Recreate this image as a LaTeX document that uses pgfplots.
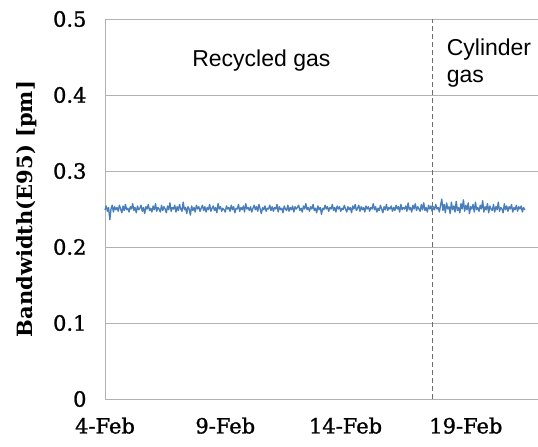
\documentclass[border=0pt]{standalone}
\usepackage{fontspec}
\setmainfont{DejaVu Serif}[FakeBold=1.2]
\newfontfamily\sansfont{Liberation Sans}
\newfontfamily\labfont{DejaVu Serif Bold}
\usepackage{pgfplots}
\pgfplotsset{compat=1.18}
\definecolor{lineblue}{RGB}{74,126,187}
\definecolor{gridgray}{RGB}{178,178,178}
\definecolor{dashgray}{RGB}{110,110,110}
\begin{document}
\begin{tikzpicture}
\begin{axis}[
  at={(0,0)}, anchor=south west,
  scale only axis,
  width=433bp, height=380bp,
  xmin=4, xmax=22,
  ymin=0, ymax=0.5,
  xtick={4,9,14,19},
  xticklabels={4-Feb,9-Feb,14-Feb,19-Feb},
  ytick={0,0.1,0.2,0.3,0.4,0.5},
  yticklabels={0,0.1,0.2,0.3,0.4,0.5},
  major tick length=0pt,
  axis x line*=bottom,
  axis y line*=left,
  axis line style={draw=gridgray, line width=0.8bp, -},
  ymajorgrids,
  grid style={draw=gridgray, line width=0.8bp},
  tick label style={font=\fontsize{21bp}{24bp}\selectfont},
  xticklabel style={yshift=-15bp},
  yticklabel style={xshift=-15bp},
  /pgf/number format/assume math mode=true,
  ylabel={Bandwidth(E95) [pm]},
  ylabel style={at={(axis description cs:-0.181,0.5)}, anchor=center, font=\labfont\fontsize{21bp}{24bp}\selectfont},
  clip=false,
]
\addplot[lineblue, line width=1.35bp, line join=round] coordinates {
(4.00,0.249)(4.05,0.254)(4.10,0.247)(4.15,0.252)(4.20,0.236)(4.25,0.250)(4.30,0.255)(4.35,0.246)(4.40,0.253)(4.45,0.249)
(4.50,0.252)(4.55,0.247)(4.60,0.255)(4.65,0.250)(4.70,0.245)(4.75,0.254)(4.80,0.248)(4.85,0.256)(4.90,0.249)(4.95,0.251)
(5.00,0.246)(5.05,0.253)(5.10,0.250)(5.15,0.257)(5.20,0.248)(5.25,0.252)(5.30,0.245)(5.35,0.254)(5.40,0.249)(5.45,0.251)
(5.50,0.255)(5.55,0.247)(5.60,0.252)(5.65,0.244)(5.70,0.253)(5.75,0.250)(5.80,0.256)(5.85,0.248)(5.90,0.251)(5.95,0.246)
(6.00,0.254)(6.05,0.249)(6.10,0.257)(6.15,0.247)(6.20,0.252)(6.25,0.250)(6.30,0.246)(6.35,0.255)(6.40,0.248)(6.45,0.253)
(6.50,0.250)(6.55,0.245)(6.60,0.254)(6.65,0.249)(6.70,0.258)(6.75,0.247)(6.80,0.252)(6.85,0.250)(6.90,0.255)(6.95,0.246)
(7.00,0.253)(7.05,0.248)(7.10,0.256)(7.15,0.250)(7.20,0.247)(7.25,0.259)(7.30,0.249)(7.35,0.252)(7.40,0.244)(7.45,0.253)
(7.50,0.250)(7.55,0.242)(7.60,0.254)(7.65,0.248)(7.70,0.252)(7.75,0.246)(7.80,0.255)(7.85,0.250)(7.90,0.253)(7.95,0.247)
(8.00,0.251)(8.05,0.255)(8.10,0.248)(8.15,0.253)(8.20,0.246)(8.25,0.252)(8.30,0.249)(8.35,0.256)(8.40,0.247)(8.45,0.251)
(8.50,0.254)(8.55,0.248)(8.60,0.252)(8.65,0.245)(8.70,0.257)(8.75,0.250)(8.80,0.253)(8.85,0.247)(8.90,0.251)(8.95,0.249)
(9.00,0.246)(9.05,0.254)(9.10,0.250)(9.15,0.252)(9.20,0.247)(9.25,0.255)(9.30,0.249)(9.35,0.253)(9.40,0.245)(9.45,0.251)
(9.50,0.250)(9.55,0.256)(9.60,0.247)(9.65,0.252)(9.70,0.249)(9.75,0.254)(9.80,0.246)(9.85,0.257)(9.90,0.250)(9.95,0.252)
(10.00,0.248)(10.05,0.253)(10.10,0.246)(10.15,0.251)(10.20,0.255)(10.25,0.249)(10.30,0.253)(10.35,0.247)(10.40,0.256)(10.45,0.250)
(10.50,0.244)(10.55,0.252)(10.60,0.249)(10.65,0.254)(10.70,0.247)(10.75,0.251)(10.80,0.250)(10.85,0.255)(10.90,0.248)(10.95,0.253)
(11.00,0.247)(11.05,0.252)(11.10,0.250)(11.15,0.256)(11.20,0.246)(11.25,0.253)(11.30,0.249)(11.35,0.251)(11.40,0.245)(11.45,0.254)
(11.50,0.250)(11.55,0.248)(11.60,0.255)(11.65,0.247)(11.70,0.252)(11.75,0.249)(11.80,0.254)(11.85,0.246)(11.90,0.253)(11.95,0.250)
(12.00,0.252)(12.05,0.255)(12.10,0.248)(12.15,0.251)(12.20,0.246)(12.25,0.254)(12.30,0.250)(12.35,0.257)(12.40,0.249)(12.45,0.252)
(12.50,0.247)(12.55,0.253)(12.60,0.250)(12.65,0.256)(12.70,0.248)(12.75,0.251)(12.80,0.245)(12.85,0.254)(12.90,0.249)(12.95,0.252)
(13.00,0.243)(13.05,0.251)(13.10,0.249)(13.15,0.255)(13.20,0.250)(13.25,0.253)(13.30,0.247)(13.35,0.252)(13.40,0.250)(13.45,0.256)
(13.50,0.248)(13.55,0.252)(13.60,0.246)(13.65,0.254)(13.70,0.250)(13.75,0.253)(13.80,0.247)(13.85,0.251)(13.90,0.249)(13.95,0.255)
(14.00,0.250)(14.05,0.246)(14.10,0.253)(14.15,0.249)(14.20,0.252)(14.25,0.245)(14.30,0.254)(14.35,0.250)(14.40,0.256)(14.45,0.248)
(14.50,0.251)(14.55,0.255)(14.60,0.247)(14.65,0.253)(14.70,0.249)(14.75,0.252)(14.80,0.246)(14.85,0.254)(14.90,0.250)(14.95,0.253)
(15.00,0.247)(15.05,0.252)(15.10,0.250)(15.15,0.257)(15.20,0.249)(15.25,0.253)(15.30,0.246)(15.35,0.251)(15.40,0.248)(15.45,0.255)
(15.50,0.250)(15.55,0.245)(15.60,0.253)(15.65,0.249)(15.70,0.256)(15.75,0.248)(15.80,0.252)(15.85,0.250)(15.90,0.254)(15.95,0.247)
(16.00,0.252)(16.05,0.248)(16.10,0.255)(16.15,0.250)(16.20,0.253)(16.25,0.246)(16.30,0.256)(16.35,0.249)(16.40,0.252)(16.45,0.250)
(16.50,0.254)(16.55,0.247)(16.60,0.258)(16.65,0.249)(16.70,0.252)(16.75,0.246)(16.80,0.255)(16.85,0.250)(16.90,0.257)(16.95,0.248)
(17.00,0.253)(17.05,0.250)(17.10,0.247)(17.15,0.256)(17.20,0.249)(17.25,0.258)(17.30,0.248)(17.35,0.252)(17.40,0.246)(17.45,0.255)
(17.50,0.250)(17.55,0.254)(17.60,0.247)(17.65,0.253)(17.70,0.249)(17.75,0.256)(17.80,0.250)(17.85,0.252)(17.90,0.246)(17.95,0.255)
(18.00,0.263)(18.05,0.248)(18.10,0.256)(18.15,0.245)(18.20,0.258)(18.25,0.250)(18.30,0.253)(18.35,0.244)(18.40,0.259)(18.45,0.249)
(18.50,0.254)(18.55,0.246)(18.60,0.260)(18.65,0.248)(18.70,0.252)(18.75,0.245)(18.80,0.257)(18.85,0.250)(18.90,0.262)(18.95,0.247)
(19.00,0.255)(19.05,0.249)(19.10,0.258)(19.15,0.244)(19.20,0.253)(19.25,0.250)(19.30,0.256)(19.35,0.246)(19.40,0.259)(19.45,0.249)
(19.50,0.252)(19.55,0.247)(19.60,0.255)(19.65,0.250)(19.70,0.261)(19.75,0.246)(19.80,0.253)(19.85,0.249)(19.90,0.257)(19.95,0.245)
(20.00,0.254)(20.05,0.250)(20.10,0.248)(20.15,0.256)(20.20,0.246)(20.25,0.253)(20.30,0.249)(20.35,0.259)(20.40,0.247)(20.45,0.252)
(20.50,0.250)(20.55,0.245)(20.60,0.257)(20.65,0.249)(20.70,0.254)(20.75,0.247)(20.80,0.253)(20.85,0.250)(20.90,0.256)(20.95,0.246)
(21.00,0.252)(21.05,0.249)(21.10,0.255)(21.15,0.247)(21.20,0.253)(21.25,0.250)(21.30,0.254)(21.35,0.246)(21.40,0.252)(21.45,0.249)
};
\addplot[dashgray, line width=1bp, dash pattern=on 5bp off 3bp] coordinates {(17.63,0) (17.63,0.5)};
\node[font=\sansfont\fontsize{23bp}{26bp}\selectfont, anchor=base] at (axis cs:10.5,0.438) {Recycled gas};
\node[font=\sansfont\fontsize{23bp}{26bp}\selectfont, anchor=base west, inner sep=0pt] at (axis cs:18.2,0.4526) {Cylinder};
\node[font=\sansfont\fontsize{23bp}{26bp}\selectfont, anchor=base west, inner sep=0pt] at (axis cs:18.2,0.4158) {gas};
\end{axis}
\pgfresetboundingbox
\path[use as bounding box] (-105bp,-48bp) rectangle (433bp,399bp);
\end{tikzpicture}
\end{document}
